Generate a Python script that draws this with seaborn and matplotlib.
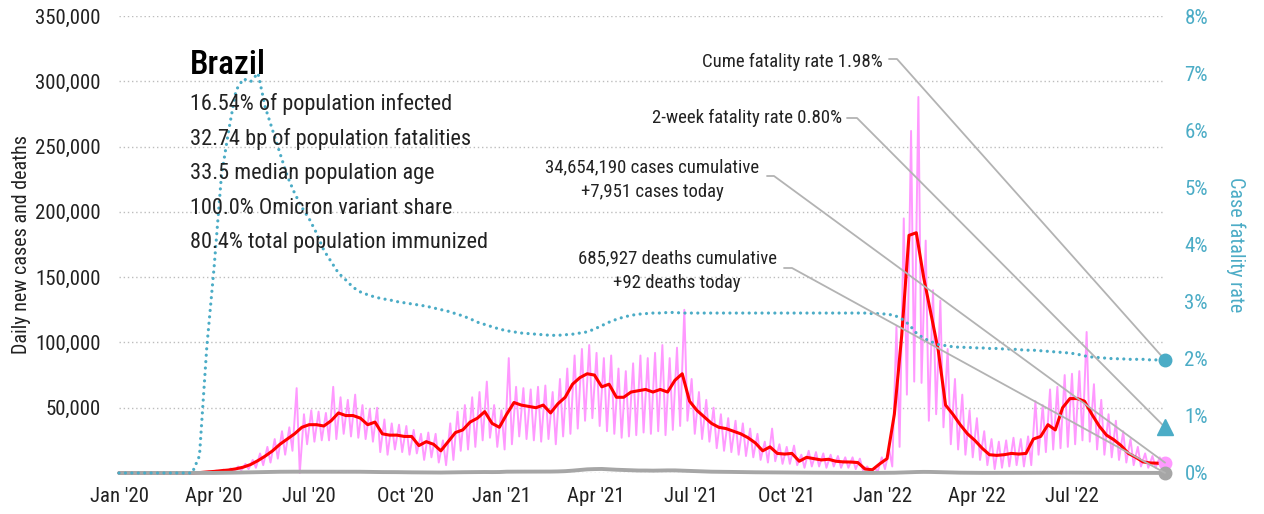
import matplotlib
matplotlib.use("Agg")
import numpy as np
import pandas as pd
import matplotlib.pyplot as plt
import matplotlib.dates as mdates
from matplotlib.ticker import FuncFormatter, MultipleLocator
import seaborn as sns

# ---------------------------------------------------------------- data
START = "2020-01-01"          # first weekly observation
N_WEEKS = 144                 # weekly observations through late Sep 2022

# 7-day average of new cases, thousands (one value per week)
cases_avg_k = [
    0, 0, 0, 0, 0, 0, 0, 0, 0, 0, 0,
    0.3, 0.8, 1.2, 1.8, 2.3, 3.2, 4.5, 6.5, 9.5,
    13, 17, 22, 26, 30, 35, 37, 37, 36, 40,
    46, 44, 44, 42, 37, 39, 30, 29, 29, 28,
    28, 21, 24, 22, 17, 24, 31, 33, 39, 42,
    47, 38, 35, 45, 54, 52, 51, 50, 52, 46,
    53, 58, 68, 73, 76, 75, 66, 68, 58, 58,
    62, 63, 64, 62, 64, 62, 71, 76, 55, 48,
    43, 38, 35, 34, 32, 30, 27, 23, 17, 20,
    15, 14.5, 15, 9, 12, 11, 10, 10.5, 9, 8.5,
    8.4, 8, 3, 2.5, 7, 11, 45, 105, 182, 184,
    150, 122, 94, 52, 45, 37, 30, 25, 19, 14,
    13.5, 14, 15, 14.5, 15, 26, 28, 37, 33, 50,
    57, 57, 55, 45, 36, 29, 25.5, 21, 15, 12,
    8.5, 7.7, 7.5, 6,
]

# daily new cases, thousands: mid-week high and weekend low of each week
cases_hi_k = [
    0, 0, 0, 0, 0, 0, 0, 0, 0, 0, 0,
    0.5, 1.2, 1.8, 2.6, 3.5, 5, 7, 10, 15,
    20, 26, 32, 35, 65, 45, 48, 47, 46, 66,
    58, 56, 60, 52, 49, 50, 41, 38, 37, 36,
    33, 30, 31, 30, 25, 38, 47, 52, 58, 62,
    70, 52, 48, 88, 66, 65, 64, 66, 67, 62,
    72, 80, 90, 95, 98, 92, 88, 90, 80, 78,
    84, 90, 88, 92, 98, 88, 96, 125, 72, 62,
    56, 50, 45, 42, 40, 38, 34, 30, 24, 34,
    22, 20, 21, 14, 17, 16, 15, 14, 13, 12,
    12, 11, 5, 4, 12, 18, 112, 195, 262, 288,
    178, 140, 132, 95, 72, 60, 48, 42, 32, 26,
    24, 25, 27, 26, 28, 55, 52, 64, 66, 75,
    76, 78, 108, 68, 56, 45, 40, 32, 26, 20,
    15, 13, 12,
]
cases_lo_k = [
    0, 0, 0, 0, 0, 0, 0, 0, 0, 0, 0,
    0.1, 0.4, 0.8, 1.2, 1.5, 2, 3, 4, 6,
    8, 11, 14, 17, 0, 22, 24, 25, 25, 26,
    30, 28, 27, 26, 24, 16, 14, 18, 16, 14,
    15, 10, 12, 8, 6, 10, 17, 18, 20, 25,
    27, 20, 18, 22, 28, 26, 25, 24, 26, 22,
    28, 30, 34, 40, 42, 36, 32, 30, 27, 28,
    29, 31, 30, 32, 29, 33, 36, 40, 30, 26,
    24, 19, 17, 16, 14, 13, 12, 10, 8, 9,
    7, 7, 6, 4, 5, 5, 4, 5, 4, 4,
    3, 2, 1, 1, 3, 5, 20, 60, 70, 69,
    40, 45, 35, 22, 18, 14, 12, 10, 6, 3,
    4, 5, 6, 5, 6, 14, 16, 18, 19, 20,
    22, 25, 24, 18, 14, 12, 10, 8, 6, 5,
    4, 4, 5,
]

# 7-day average of new deaths (one value per week)
deaths_avg = [
    0, 0, 0, 0, 0, 0, 0, 0, 0, 0, 0,
    5, 20, 60, 120, 180, 300, 420, 550, 700,
    850, 900, 950, 1000, 1000, 1000, 1050, 1050, 1050, 1050,
    1050, 1000, 1000, 950, 850, 800, 700, 700, 650, 550,
    500, 450, 400, 350, 350, 450, 550, 600, 650, 700,
    750, 700, 750, 1000, 1050, 1050, 1050, 1050, 1050, 1100,
    1200, 1400, 1800, 2300, 2800, 3000, 3100, 2800, 2500, 2300,
    2100, 1900, 1900, 1800, 1900, 2000, 2000, 1800, 1600, 1400,
    1200, 1000, 950, 900, 800, 700, 650, 550, 500, 450,
    400, 350, 300, 280, 250, 230, 220, 200, 180, 150,
    120, 100, 60, 80, 100, 130, 200, 350, 550, 750,
    850, 800, 650, 500, 350, 250, 180, 130, 110, 100,
    100, 100, 110, 130, 150, 170, 200, 230, 250, 250,
    230, 200, 180, 160, 140, 120, 110, 100, 90, 85,
    80, 75, 70, 60,
]

# cumulative case fatality rate, percent (one value per week)
cfr_pct = [
    0, 0, 0, 0, 0, 0, 0, 0, 0, 0, 0,
    0.3, 2.2, 3.6, 5.2, 6.0, 6.7, 6.9, 6.85, 7.0,
    6.4, 6.0, 5.6, 5.2, 4.9, 4.65, 4.45, 4.2, 3.9, 3.7,
    3.5, 3.38, 3.25, 3.17, 3.12, 3.08, 3.05, 3.03, 3.0, 2.98,
    2.96, 2.94, 2.92, 2.89, 2.86, 2.83, 2.79, 2.75, 2.7, 2.64,
    2.6, 2.56, 2.52, 2.49, 2.47, 2.45, 2.44, 2.43, 2.42, 2.41,
    2.41, 2.42, 2.43, 2.45, 2.47, 2.52, 2.58, 2.64, 2.69, 2.73,
    2.76, 2.78, 2.79, 2.8, 2.8, 2.81, 2.81, 2.8, 2.8, 2.8,
    2.8, 2.8, 2.8, 2.8, 2.8, 2.8, 2.8, 2.8, 2.8, 2.8,
    2.8, 2.8, 2.8, 2.8, 2.8, 2.8, 2.8, 2.8, 2.8, 2.8,
    2.8, 2.8, 2.8, 2.79, 2.79, 2.78, 2.76, 2.7, 2.6, 2.45,
    2.36, 2.3, 2.25, 2.23, 2.21, 2.2, 2.2, 2.19, 2.19, 2.18,
    2.18, 2.17, 2.17, 2.16, 2.15, 2.15, 2.14, 2.13, 2.12, 2.11,
    2.1, 2.08, 2.05, 2.03, 2.02, 2.01, 2.0, 2.0, 1.99, 1.99,
    1.99, 1.98, 1.98, 1.98,
]

cases_today = 7951
deaths_today = 92
cases_cumulative = 34654190
deaths_cumulative = 685927
cume_fatality_rate = 1.98
two_week_fatality_rate = 0.80

country = "Brazil"
country_stats = [
    "16.54% of population infected",
    "32.74 bp of population fatalities",
    "33.5 median population age",
    "100.0% Omicron variant share",
    "80.4% total population immunized",
]

# ---------------------------------------------------------------- frames
week_dates = pd.date_range(START, periods=N_WEEKS, freq="7D")
end_date = week_dates[-1]

weekly = pd.DataFrame({
    "date": week_dates,
    "cases_avg": np.array(cases_avg_k) * 1000,
    "deaths": deaths_avg,
    "cfr": cfr_pct,
})

# daily cases swing between a mid-week high and a weekend low
daily_rows = []
for i, (hi, lo) in enumerate(zip(cases_hi_k, cases_lo_k)):
    daily_rows.append((week_dates[i] + pd.Timedelta(days=2), hi * 1000))
    daily_rows.append((week_dates[i] + pd.Timedelta(days=5), lo * 1000))
daily_rows.append((end_date, cases_today))
daily = pd.DataFrame(daily_rows, columns=["date", "cases"])

# ---------------------------------------------------------------- style
sns.set_style("white")
FONT = ["Roboto Condensed", "DejaVu Sans"]
plt.rcParams["font.family"] = FONT
TXT = "#222222"
TEAL = "#4bacc6"
PINK = "#ff99ff"
GREY = "#a6a6a6"
LEAD = "#b3b3b3"

W, H = 1264, 514
fig = plt.figure(figsize=(W / 100, H / 100), dpi=100)
ax = fig.add_axes([119 / W, 41 / H, (1165 - 119) / W, (473 - 16) / H])
ax2 = ax.twinx()

# ---------------------------------------------------------------- series
sns.lineplot(data=daily, x="date", y="cases", ax=ax, color=PINK,
             linewidth=1.4, estimator=None, sort=True)
sns.lineplot(data=weekly, x="date", y="cases_avg", ax=ax, color="#ff0000",
             linewidth=2.2, estimator=None)
sns.lineplot(data=weekly, x="date", y="deaths", ax=ax, color=GREY,
             linewidth=2.8, estimator=None)
for ln in ax.lines:
    ln.set_clip_on(False)

sns.lineplot(data=weekly, x="date", y="cfr", ax=ax2, color=TEAL,
             linewidth=2.3, estimator=None)
cfr_line = ax2.lines[-1]
cfr_line.set_linestyle((0, (0.01, 2.0)))
cfr_line.set_dash_capstyle("round")
cfr_line.set_clip_on(False)

# end-of-series markers
ax.plot([end_date], [cases_today], "o", color=PINK, ms=9, clip_on=False, zorder=6)
ax.plot([end_date], [deaths_today], "o", color=GREY, ms=9, clip_on=False, zorder=6)
ax2.plot([end_date], [cume_fatality_rate], "o", color=TEAL, ms=9,
         clip_on=False, zorder=6)
ax2.plot([end_date], [two_week_fatality_rate], "^", color=TEAL, ms=11,
         clip_on=False, zorder=6)

# ---------------------------------------------------------------- axes
ax.set_xlim(pd.Timestamp(START), end_date)
ax.set_ylim(0, 350000)
ax2.set_ylim(0, 8)

ax.yaxis.set_major_locator(MultipleLocator(50000))
ax.yaxis.set_major_formatter(
    FuncFormatter(lambda v, p: "" if v == 0 else f"{int(v):,}"))
ax2.yaxis.set_major_locator(MultipleLocator(1))
ax2.yaxis.set_major_formatter(FuncFormatter(lambda v, p: f"{int(v)}%"))

ax.xaxis.set_major_locator(mdates.MonthLocator(bymonth=[1, 4, 7, 10]))
ax.xaxis.set_major_formatter(mdates.DateFormatter("%b '%y"))

ax.tick_params(axis="y", length=0, pad=13, labelsize=15, labelcolor=TXT)
ax.tick_params(axis="x", length=0, pad=10, labelsize=15, labelcolor=TXT)
ax2.tick_params(axis="y", length=0, pad=14, labelsize=15, labelcolor=TEAL)

ax.set_xlabel("")
ax.set_ylabel("Daily new cases and deaths", fontsize=14.5, color=TXT, labelpad=3)
ax2.set_ylabel("Case fatality rate", fontsize=14.5, color=TEAL, rotation=270,
               labelpad=27)

ax.grid(False)
ax2.grid(False)
ax.yaxis.grid(True, linestyle=(0, (1, 2)), color="#bdbdbd", linewidth=1)
for a in (ax, ax2):
    for s in a.spines.values():
        s.set_visible(False)
ax.set_zorder(0)
ax2.set_zorder(1)

# ---------------------------------------------------------------- text
def fy(py):
    return 1 - py / H

fig.text(190 / W, fy(74), country, fontsize=24, fontweight="medium",
         color="#000000", va="baseline", ha="left")
for k, line in enumerate(country_stats):
    fig.text(190 / W, fy(110 + 34.6 * k), line, fontsize=16, color=TXT,
             va="baseline", ha="left")

fig.text(883 / W, fy(67), f"Cume fatality rate {cume_fatality_rate:.2f}%",
         fontsize=13.5, color=TXT, ha="right", va="baseline")
fig.text(842 / W, fy(123), f"2-week fatality rate {two_week_fatality_rate:.2f}%",
         fontsize=13.5, color=TXT, ha="right", va="baseline")
fig.text(652 / W, fy(172), f"{cases_cumulative:,} cases cumulative",
         fontsize=13.5, color=TXT, ha="center", va="baseline")
fig.text(652 / W, fy(197), f"+{cases_today:,} cases today",
         fontsize=13.5, color=TXT, ha="center", va="baseline")
fig.text(677 / W, fy(263), f"{deaths_cumulative:,} deaths cumulative",
         fontsize=13.5, color=TXT, ha="center", va="baseline")
fig.text(677 / W, fy(288), f"+{deaths_today} deaths today",
         fontsize=13.5, color=TXT, ha="center", va="baseline")

# leader lines: short horizontal stub after the label, then to the marker
def leader(x0, x1, py, axis, yval):
    mx, my = axis.transData.transform((mdates.date2num(end_date), yval))
    fx, fyy = fig.transFigure.inverted().transform((mx, my))
    ax2.plot([x0 / W, x1 / W, fx], [fy(py), fy(py), fyy], color=LEAD,
             linewidth=1.3, transform=fig.transFigure, clip_on=False, zorder=3)

leader(889, 897, 59, ax2, cume_fatality_rate)
leader(847, 857, 118, ax2, two_week_fatality_rate)
leader(767, 774, 176, ax, cases_today)
leader(784, 792, 268, ax, deaths_today)

fig.savefig("out.png", dpi=100)
